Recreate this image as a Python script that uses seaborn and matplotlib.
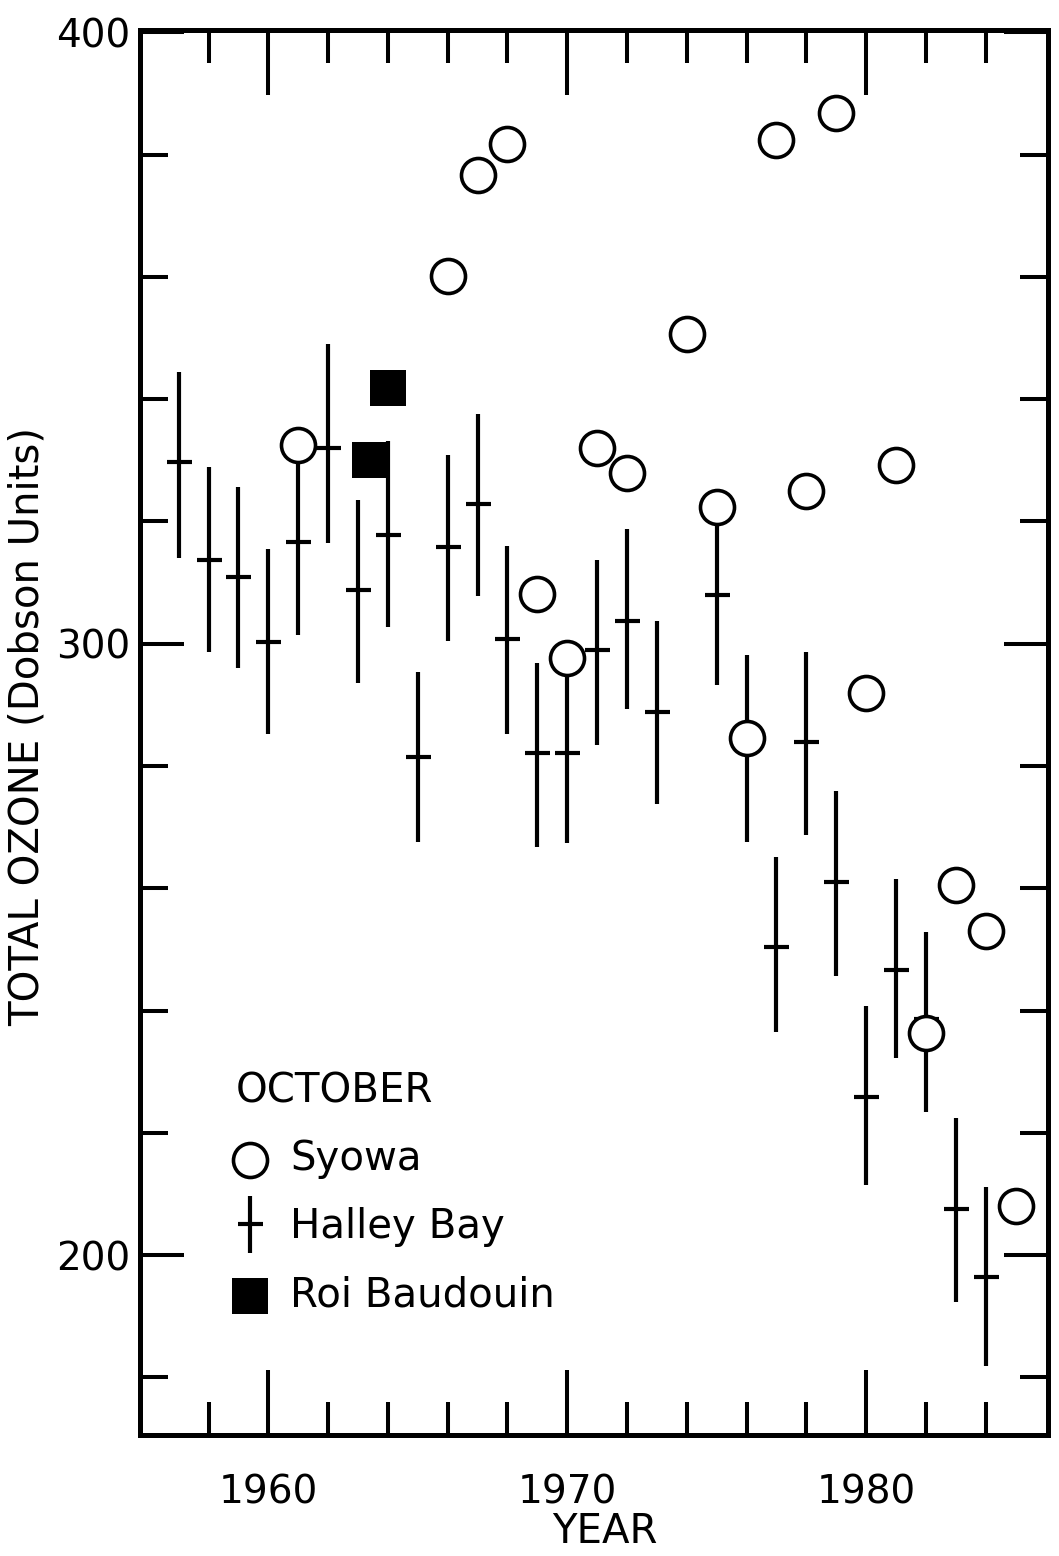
import pandas as pd
import seaborn as sns
from matplotlib import pyplot as plt
from matplotlib.ticker import FixedLocator, NullFormatter
from matplotlib.container import ErrorbarContainer
from matplotlib.legend_handler import HandlerErrorbar

# October mean total ozone (Dobson units)
syowa_year = [1961, 1966, 1967, 1968, 1969, 1970, 1971, 1972, 1974, 1975,
              1976, 1977, 1978, 1979, 1980, 1981, 1982, 1983, 1984, 1985]
syowa_ozone = [332.5, 360.2, 376.7, 381.7, 308.2, 297.7, 332.0, 327.9, 350.7, 322.3,
               284.6, 382.4, 325.0, 386.8, 291.9, 329.2, 236.3, 260.6, 253.0, 208.1]

halley_year = [1957, 1958, 1959, 1960, 1961, 1962, 1963, 1964, 1965, 1966,
               1967, 1968, 1969, 1970, 1971, 1972, 1973, 1975, 1976, 1977,
               1978, 1979, 1980, 1981, 1982, 1983, 1984]
halley_ozone = [329.7, 313.7, 310.9, 300.3, 316.7, 332.0, 308.8, 317.8, 281.5, 315.9,
                322.8, 300.8, 282.1, 282.1, 299.0, 303.7, 288.9, 307.9, 284.6, 250.4,
                284.0, 261.1, 225.8, 246.6, 238.6, 207.5, 196.4]
halley_low = [314.1, 298.7, 296.1, 285.3, 301.4, 316.4, 293.6, 302.7, 267.6, 300.4,
              307.8, 285.3, 266.7, 267.4, 283.5, 289.3, 273.8, 293.2, 267.5, 236.5,
              268.8, 245.6, 211.4, 232.2, 223.4, 192.4, 181.9]
halley_high = [344.4, 328.9, 325.7, 315.5, 332.2, 349.1, 323.5, 333.2, 295.4, 330.9,
               337.5, 316.0, 296.8, 297.6, 313.7, 318.7, 303.7, 321.8, 298.1, 265.1,
               298.7, 275.9, 240.8, 261.6, 252.8, 222.5, 211.1]

roi_year = [1963.4, 1964.0]
roi_ozone = [330.1, 341.9]

x_major = [1960, 1970, 1980]
x_minor = [1958, 1962, 1964, 1966, 1968, 1972, 1974, 1976, 1978, 1982, 1984]
y_major = [200, 300, 400]
y_minor = [180, 220, 240, 260, 280, 320, 340, 360, 380]

syowa = pd.DataFrame({'year': syowa_year, 'ozone': syowa_ozone})
halley = pd.DataFrame({'year': halley_year, 'ozone': halley_ozone,
                       'low': halley_low, 'high': halley_high})
roi = pd.DataFrame({'year': roi_year, 'ozone': roi_ozone})

sns.set_style('ticks')
plt.rcParams['font.family'] = ['DejaVu Sans']
plt.rcParams['text.color'] = 'black'
plt.rcParams['axes.labelcolor'] = 'black'
plt.rcParams['xtick.color'] = 'black'
plt.rcParams['ytick.color'] = 'black'

fig = plt.figure(figsize=(10.59, 15.56), dpi=100)
ax = fig.add_axes([0.132, 0.0778, 0.858, 0.903])

eb = ax.errorbar(halley['year'], halley['ozone'],
                 yerr=[halley['ozone'] - halley['low'], halley['high'] - halley['ozone']],
                 fmt='_', color='black', ecolor='black', elinewidth=3,
                 markersize=18, markeredgewidth=3, capsize=0, label='Halley Bay')

sns.scatterplot(data=syowa, x='year', y='ozone', ax=ax, marker='o', s=600,
                facecolor='white', edgecolor='black', linewidth=2.6,
                label='Syowa', zorder=3)
sns.scatterplot(data=roi, x='year', y='ozone', ax=ax, marker='s', s=650,
                color='black', edgecolor='black', linewidth=0,
                label='Roi Baudouin', zorder=3)

ax.set_xlim(1955.7, 1986.1)
ax.set_ylim(170.6, 400.4)

ax.xaxis.set_major_locator(FixedLocator(x_major))
ax.xaxis.set_minor_locator(FixedLocator(x_minor))
ax.yaxis.set_major_locator(FixedLocator(y_major))
ax.yaxis.set_minor_locator(FixedLocator(y_minor))
ax.xaxis.set_minor_formatter(NullFormatter())
ax.yaxis.set_minor_formatter(NullFormatter())

ax.tick_params(which='both', direction='in', top=True, right=True,
               width=2.9, color='black', labelcolor='black', labelsize=28)
ax.tick_params(axis='x', which='major', length=47, pad=28)
ax.tick_params(axis='x', which='minor', length=24)
ax.tick_params(axis='y', which='major', length=32, pad=7)
ax.tick_params(axis='y', which='minor', length=20)

for sp in ax.spines.values():
    sp.set_linewidth(3.6)
    sp.set_color('black')

ax.set_xlabel('YEAR', fontsize=29)
ax.set_ylabel('TOTAL OZONE (Dobson Units)', fontsize=29)
ax.xaxis.set_label_coords(0.512, -0.055)
ax.yaxis.set_label_coords(-0.101, 0.504)

handles, labels = ax.get_legend_handles_labels()
order = [labels.index(n) for n in ['Syowa', 'Halley Bay', 'Roi Baudouin']]
leg = ax.legend([handles[i] for i in order], [labels[i] for i in order],
                title='OCTOBER', title_fontsize=29, fontsize=29,
                loc='upper left', bbox_to_anchor=(0.106, 0.259),
                frameon=False, borderpad=0, borderaxespad=0,
                handlelength=0.7, handletextpad=0.65, labelspacing=0.7,
                alignment='left',
                handler_map={ErrorbarContainer: HandlerErrorbar(yerr_size=0.7)})

plt.savefig('out.png', dpi=100)
plt.close()
